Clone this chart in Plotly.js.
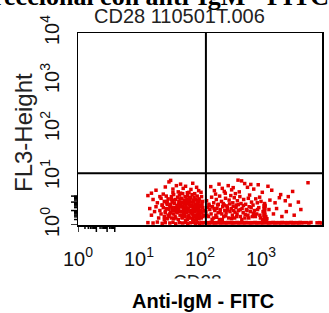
<!DOCTYPE html>
<html><head><meta charset="utf-8">
<script src="https://cdn.plot.ly/plotly-3.0.1.min.js"></script>
<style>html,body{margin:0;padding:0;background:#fff}#chart{width:329px;height:313px}</style>
</head><body><div id="chart"></div>
<script>
// Event values (CD28 vs FL3-Height), log scales
var eventsX = [
 16,19,27,31,33,36,41,44,48,53,58,62,71,76,88,95,104,22,25,14,
 17,20,23,24,26,28,29,30,32,34,35,37,38,40,42,43,45,46,49,50,52,54,55,57,59,61,63,65,67,70,72,74,78,80,84,86,90,93,97,101,106,110,36,48,66,82,
 15,16,18,19,21,22,23,25,26,27,28,30,31,33,34,35,37,38,39,41,42,44,45,47,48,50,51,53,54,56,57,59,60,62,64,66,68,69,71,73,75,77,79,81,83,85,87,89,92,94,96,99,102,105,108,111,114,29,43,58,76,91,
 24,27,29,31,33,35,38,40,43,46,49,52,55,58,61,64,67,70,73,76,79,82,85,88,91,94,97,100,103,107,
 26,28,32,34,37,39,41,44,47,51,53,56,60,63,65,68,72,74,77,80,83,86,89,93,96,99,103,108,112,116,
 14,17,20,24,27,32,36,40,46,52,58,63,70,78,84,92,98,104,110,115,
 150,172,205,232,260,290,330,380,420,480,540,600,680,760,900,1050,1300,1500,5900,3300,2100,180,250,350,440,
 128,140,155,168,185,195,210,225,240,262,275,300,320,345,365,395,410,450,470,520,560,620,650,700,740,820,870,950,1000,1150,1400,1700,2000,2500,3000,4100,2800,
 125,132,138,145,152,160,166,175,182,190,198,208,216,228,236,245,255,268,280,295,310,325,340,355,370,390,405,430,460,490,510,545,575,610,640,670,720,780,850,920,980,1080,1120,1120,1120,1120,1200,1250,1350,1600,1800,2200,2600,3500,4500,1060,1180,
 130,142,158,170,188,200,214,232,250,265,285,305,330,350,375,400,425,455,485,515,550,590,630,690,750,810,880,960,
 1150,1100,1220,1180,1130,1160,1140,1150,1160,1170,
 128,135,142,150,158,166,175,185,195,206,218,230,243,257,272,288,305,323,342,362,383,405,429,454,480,508,538,570,603,638,675,715,757,801,848,897,950,1005,1064,1126,1192,1262,1336,1414,1497,1585,1678,1776,1880,1990,2107,2230,2360,2500,2646,2800,2965,3140,3320,3515,3720,3940,4170,4415,4670,4950,
 5600,6100,6600,8300,9100,9700
];
var eventsY = [
 4.6,5.3,6.2,7.9,8.5,5.6,6.6,4.9,7.1,5.8,6.4,4.7,5.5,7.4,6.1,5.2,4.8,3.9,4.4,4.1,
 3.4,2.9,3.6,2.6,3.1,4.0,2.7,3.5,2.4,3.9,3.0,4.3,2.8,3.4,2.5,3.8,3.1,4.2,2.7,3.6,4.5,2.9,3.3,3.9,2.6,3.5,4.1,2.8,3.2,3.7,2.5,4.3,3.0,3.8,2.7,3.4,4.0,2.9,3.5,2.6,3.9,3.1,4.7,4.6,4.8,4.5,
 2.2,1.6,1.9,2.4,1.4,2.0,1.7,2.3,1.5,1.9,2.2,1.6,2.1,1.8,1.4,2.3,1.7,2.0,1.5,2.2,1.8,1.3,2.1,1.6,2.4,1.9,1.4,2.2,1.7,2.0,1.5,2.3,1.8,1.3,2.1,1.6,1.9,2.4,1.4,2.0,1.7,2.2,1.5,1.9,2.3,1.6,1.3,2.1,1.8,1.5,2.2,1.7,2.0,1.4,1.9,2.3,1.6,1.35,2.45,1.25,1.3,2.4,
 2.6,1.8,3.1,1.5,2.7,2.0,3.3,1.4,2.5,1.9,3.0,1.6,2.8,2.1,3.2,1.5,2.6,1.9,3.0,1.7,2.5,2.1,3.3,1.6,2.7,2.0,3.1,1.5,2.4,1.8,
 1.3,2.9,1.7,3.4,1.35,2.3,1.9,2.7,3.5,1.45,2.4,1.75,2.9,2.2,1.4,3.6,1.8,2.6,3.3,1.25,2.05,1.45,2.75,3.2,1.35,2.55,1.8,2.65,1.5,2.0,
 1.12,1.1,1.15,1.08,1.12,1.1,1.14,1.06,1.12,1.1,1.13,1.07,1.11,1.14,1.09,1.12,1.06,1.13,1.1,1.12,
 6.3,5.2,7.1,5.8,4.6,6.6,5.4,4.5,8.6,8.3,7.3,6.1,7.0,5.6,6.9,4.8,6.4,5.3,7.6,5.0,4.3,4.4,5.0,6.0,4.9,
 3.2,2.7,3.8,2.9,3.4,2.6,4.0,3.1,2.8,3.6,2.5,3.3,4.1,2.9,3.7,2.6,3.2,3.9,2.8,3.4,2.7,3.6,4.2,3.0,2.6,3.5,2.9,3.8,3.1,2.7,3.3,2.9,3.7,3.2,2.6,3.0,3.9,
 1.9,2.3,1.5,2.1,1.7,2.4,1.4,2.0,1.6,2.2,1.8,1.3,2.1,1.7,2.4,1.5,2.0,1.8,2.3,1.4,1.9,2.2,1.6,2.0,1.4,2.3,1.7,2.0,1.5,2.2,1.8,1.4,2.1,1.6,2.4,1.9,1.5,2.0,1.7,2.3,1.4,1.9,2.2,1.6,1.8,2.5,1.5,1.35,2.1,1.7,2.2,1.5,1.9,1.6,2.1,1.3,1.3,
 1.6,2.5,1.3,2.2,1.45,2.7,1.85,1.3,2.6,1.55,2.05,2.75,1.35,2.45,1.85,1.5,2.65,2.1,1.3,2.55,1.65,2.0,1.4,2.3,1.75,1.5,2.1,1.6,
 1.25,1.2,1.22,1.4,1.5,1.65,2.8,1.9,2.2,2.5,
 1.11,1.12,1.1,1.13,1.11,1.12,1.1,1.12,1.11,1.13,1.1,1.12,1.11,1.12,1.1,1.13,1.11,1.12,1.1,1.12,1.11,1.13,1.1,1.12,1.11,1.12,1.1,1.13,1.11,1.12,1.1,1.12,1.11,1.13,1.1,1.12,1.11,1.12,1.1,1.13,1.11,1.12,1.1,1.12,1.11,1.13,1.1,1.12,1.11,1.12,1.1,1.13,1.11,1.12,1.1,1.12,1.11,1.13,1.1,1.12,1.11,1.12,1.1,1.13,1.11,1.12,
 1.12,1.1,1.13,1.11,1.12,1.1
];
// Quadrant gate positions
var gateX = 125;
var gateY = 12;
var axisRange = [1, 10000];
var majorVals = [1, 10, 100, 1000, 10000];
var majorText = ['10<sup>0</sup>', '10<sup>1</sup>', '10<sup>2</sup>', '10<sup>3</sup>', '10<sup>4</sup>'];
var minorVals = [];
for (var d = 0; d < 4; d++) { for (var k = 2; k <= 9; k++) { minorVals.push(k * majorVals[d]); } }

var mainTitle = 'CD28 110501T.006';
var yTitle = 'FL3-Height';
var xTitle = 'CD28';
var bottomTitle = 'Anti-IgM - FITC';
var topCaption = 'Análisis bidireccional con anti-IgM - FITC';

function px(x){ return (x-78)/244; }
function py(y){ return (225-y)/192; }

var sans = 'Liberation Sans, Arial, sans-serif';

// tick marks as pixel-length shapes hanging off the frame (log axes take log10 positions)
var tickShapes = [];
function addTicks(vals, len) {
  vals.forEach(function (v) {
    var lv = Math.log10(v);
    tickShapes.push({type:'line', layer:'above', xref:'x', yref:'paper', x0:lv, x1:lv,
      ysizemode:'pixel', yanchor:0, y0:0, y1:-len, line:{color:'#000', width:1.5}});
    tickShapes.push({type:'line', layer:'above', xref:'paper', yref:'y', y0:lv, y1:lv,
      xsizemode:'pixel', xanchor:0, x0:0, x1:-len, line:{color:'#000', width:1.5}});
  });
}
addTicks(majorVals, 7);
addTicks(minorVals, 4);

var traces = [
 {type:'scatter', mode:'markers', x:eventsX, y:eventsY,
  marker:{symbol:'square', size:3.5, color:'rgb(228,0,0)', line:{width:0}}, hoverinfo:'skip'},
 {type:'scatter', mode:'lines', x:[gateX,gateX], y:axisRange, line:{color:'#000', width:2}, hoverinfo:'skip'},
 {type:'scatter', mode:'lines', x:axisRange, y:[gateY,gateY], line:{color:'#000', width:2}, hoverinfo:'skip'}
];

var layout = {
  width:329, height:313,
  margin:{l:78, r:7, t:33, b:88},
  showlegend:false,
  xaxis: {type:'log', range:[0,4], tickmode:'array', tickvals:majorVals, ticktext:majorText,
    showgrid:false, zeroline:false, showline:true, linecolor:'#000', linewidth:1.5, mirror:true,
    ticks:'outside', ticklen:15, tickwidth:1, tickcolor:'rgba(0,0,0,0)',
    tickfont:{family:sans, size:20, color:'#111'}},
  yaxis: {type:'log', range:[0,4], tickmode:'array', tickvals:majorVals, ticktext:majorText, tickangle:-90,
    showgrid:false, zeroline:false, showline:true, linecolor:'#000', linewidth:1.5, mirror:true,
    ticks:'outside', ticklen:10, tickwidth:1, tickcolor:'rgba(0,0,0,0)',
    tickfont:{family:sans, size:20, color:'#111'}},
  shapes: tickShapes,
  annotations:[
    {text:'<b>'+topCaption+'</b>', xref:'paper', yref:'paper', x:px(331), y:py(-4), xanchor:'right', yanchor:'middle',
     showarrow:false, font:{family:'Liberation Serif, Times New Roman, serif', size:26, color:'#000'}},
    {text:mainTitle, xref:'paper', yref:'paper', x:px(179), y:py(16), xanchor:'center', yanchor:'middle',
     showarrow:false, font:{family:sans, size:20, color:'#222'}},
    {text:yTitle, xref:'paper', yref:'paper', x:px(23), y:py(133), xanchor:'center', yanchor:'middle', textangle:-90,
     showarrow:false, font:{family:sans, size:24, color:'#222'}},
    {text:xTitle, xref:'paper', yref:'paper', x:px(197), y:py(281), xanchor:'center', yanchor:'middle',
     showarrow:false, font:{family:sans, size:19, color:'#222'}},
    {text:' ', xref:'paper', yref:'paper', x:px(197), y:py(278), xanchor:'center', yanchor:'top',
     showarrow:false, width:90, height:12, bgcolor:'#fff', borderpad:0, font:{size:8}},
    {text:'<b>'+bottomTitle+'</b>', xref:'paper', yref:'paper', x:px(203), y:py(301), xanchor:'center', yanchor:'middle',
     showarrow:false, font:{family:sans, size:20, color:'#000'}}
  ]
};

Plotly.newPlot('chart', traces, layout, {staticPlot:true, displayModeBar:false});
</script>
</body></html>
